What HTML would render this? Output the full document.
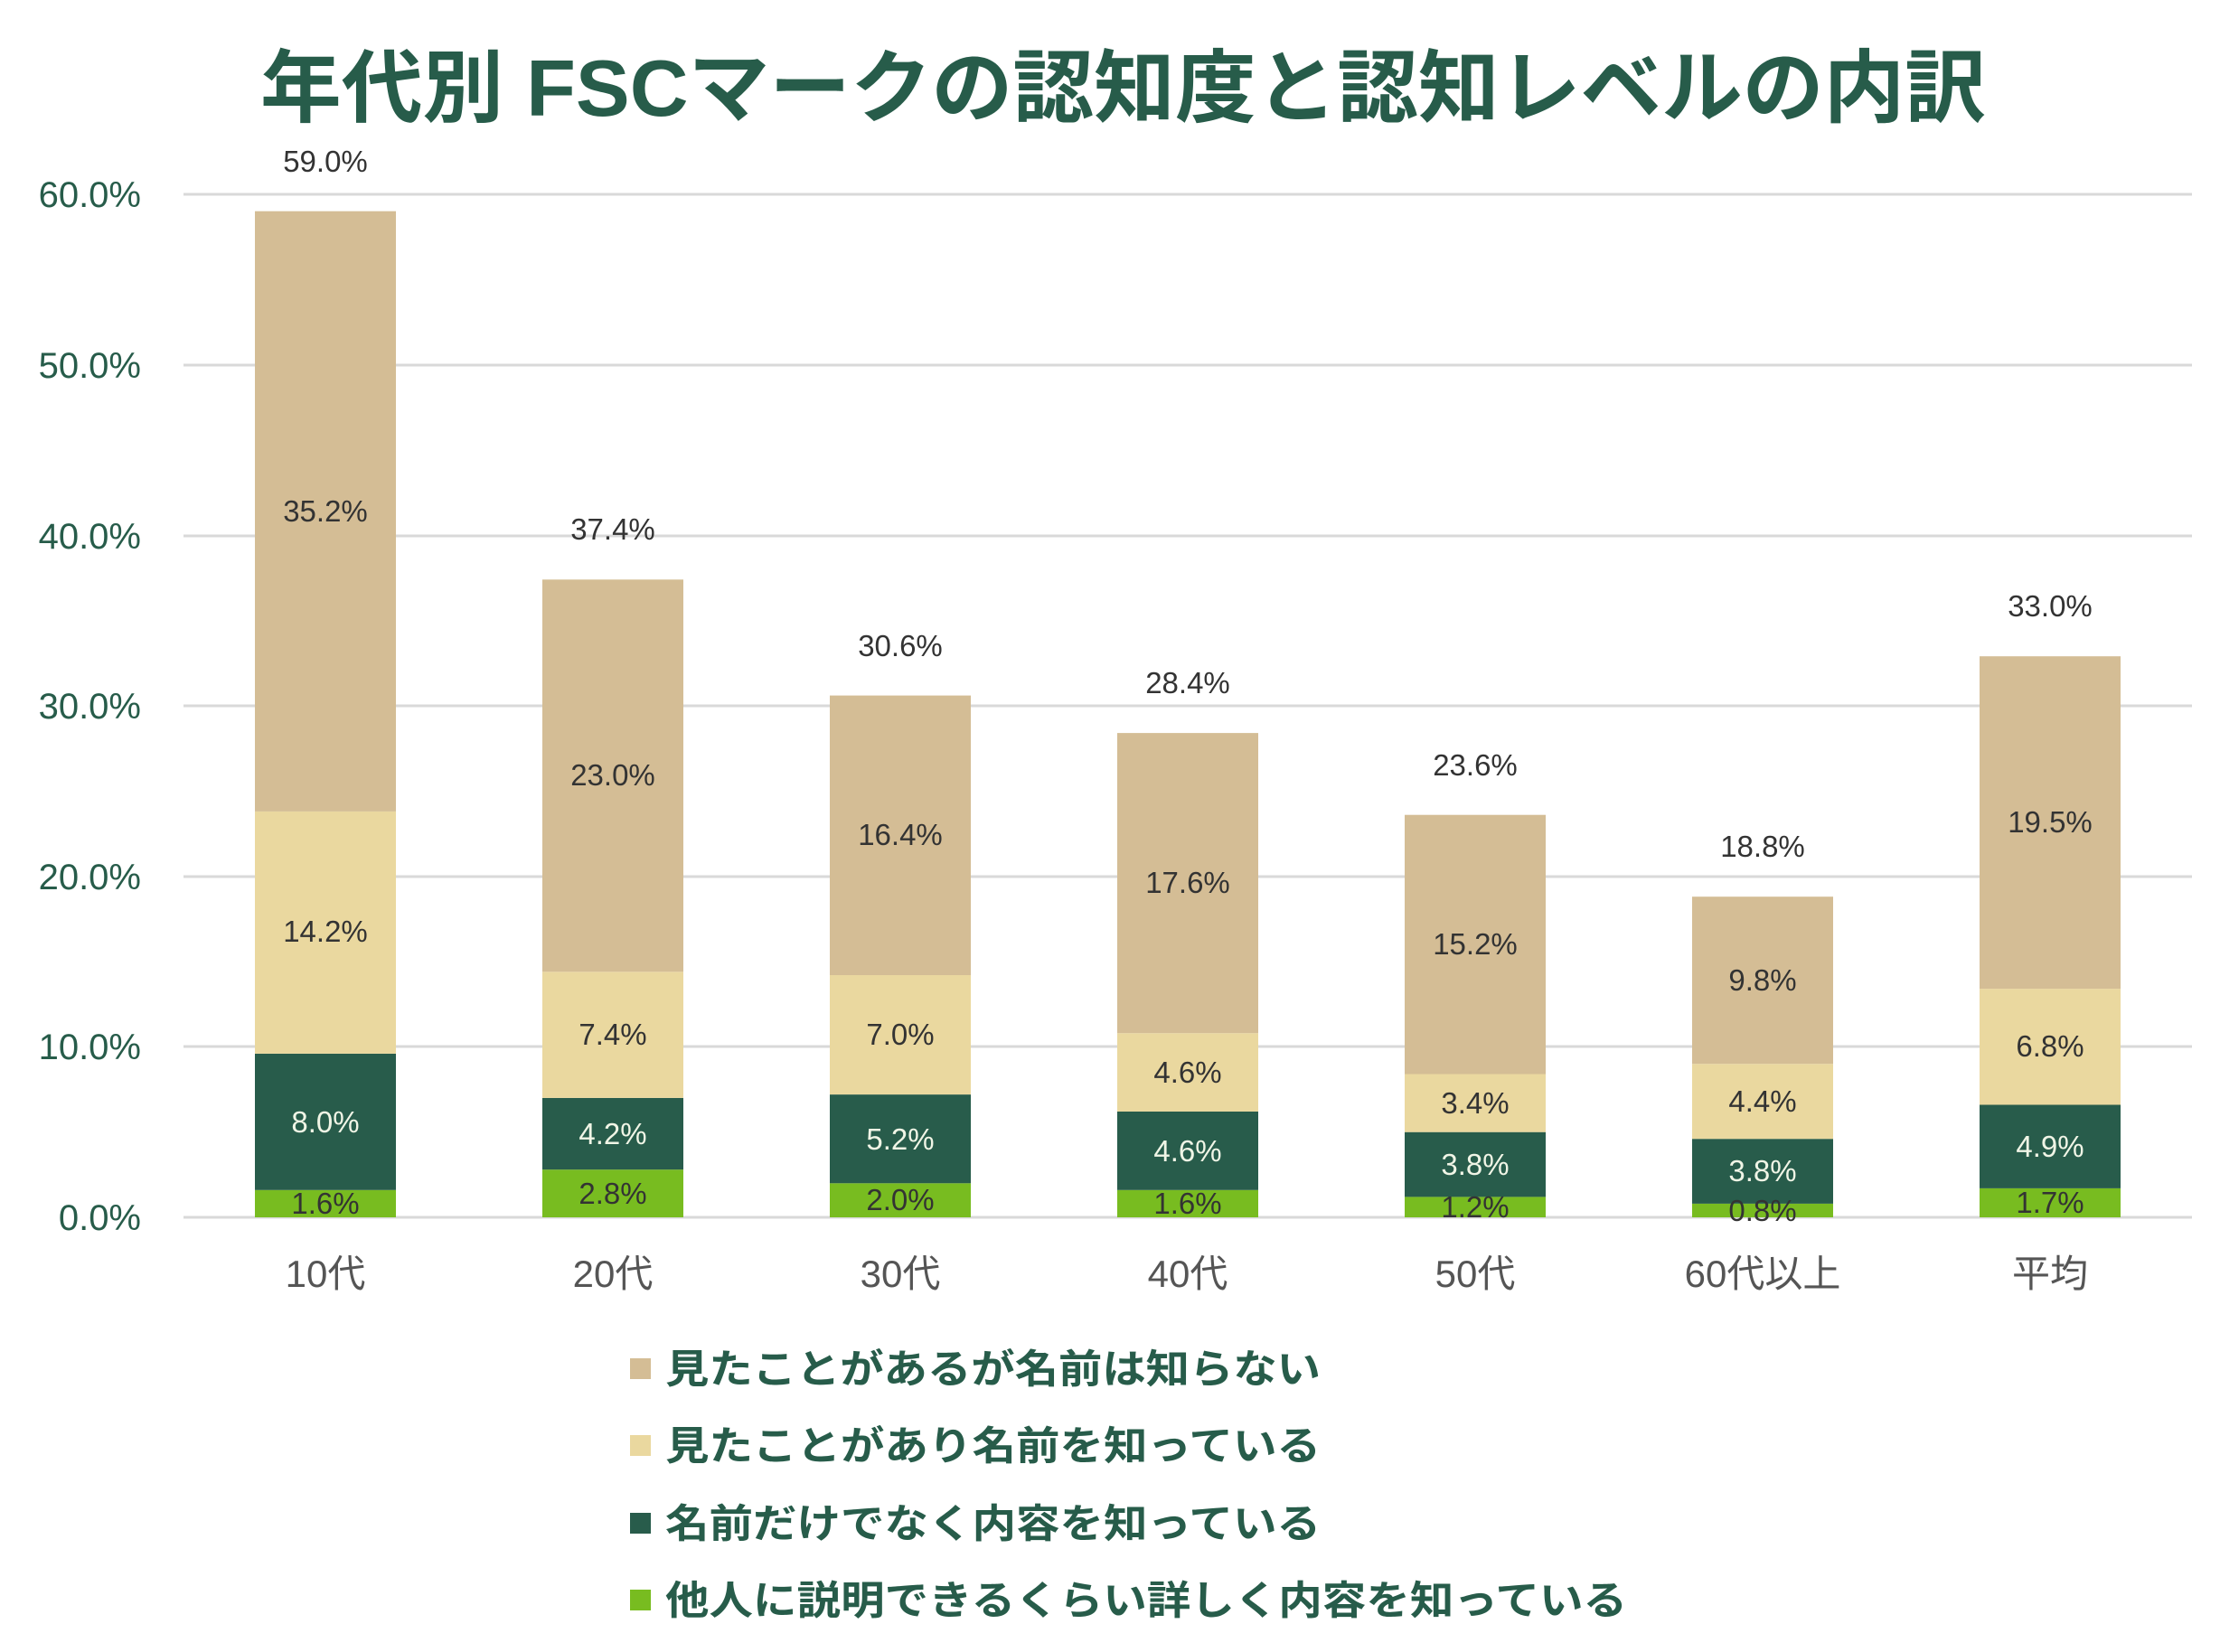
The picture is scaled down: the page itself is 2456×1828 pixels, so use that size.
<!DOCTYPE html>
<html><head><meta charset="utf-8"><style>
html,body{margin:0;padding:0;background:#fff;}
svg{display:block;}
text{font-family:"Liberation Sans","Noto Sans CJK JP",sans-serif;}
</style></head><body>
<svg width="2456" height="1828" viewBox="0 0 2456 1828" xmlns="http://www.w3.org/2000/svg">
<text x="288" y="128" font-size="88" font-weight="bold" fill="#275c4a" textLength="1909" lengthAdjust="spacingAndGlyphs" font-family="Noto Sans CJK JP, sans-serif">年代別 FSCマークの認知度と認知レベルの内訳</text>
<g stroke="#d9d9d9" stroke-width="3">
<line x1="203" x2="2425" y1="215" y2="215"/>
<line x1="203" x2="2425" y1="404" y2="404"/>
<line x1="203" x2="2425" y1="593" y2="593"/>
<line x1="203" x2="2425" y1="781" y2="781"/>
<line x1="203" x2="2425" y1="970" y2="970"/>
<line x1="203" x2="2425" y1="1158" y2="1158"/>
<line x1="203" x2="2425" y1="1347" y2="1347"/>
</g>
<g font-size="40" fill="#275c4a" text-anchor="end">
<text x="156" y="229">60.0%</text>
<text x="156" y="418">50.0%</text>
<text x="156" y="607">40.0%</text>
<text x="156" y="795">30.0%</text>
<text x="156" y="984">20.0%</text>
<text x="156" y="1172">10.0%</text>
<text x="156" y="1361">0.0%</text>
</g>
<g>
<rect x="282" y="1316.8" width="156" height="30.2" fill="#78bc20"/>
<rect x="282" y="1165.9" width="156" height="150.9" fill="#285c4b"/>
<rect x="282" y="897.9" width="156" height="268" fill="#ead89f"/>
<rect x="282" y="233.7" width="156" height="664.2" fill="#d4bd95"/>

<rect x="600" y="1294.2" width="156" height="52.8" fill="#78bc20"/>
<rect x="600" y="1214.9" width="156" height="79.3" fill="#285c4b"/>
<rect x="600" y="1075.3" width="156" height="139.6" fill="#ead89f"/>
<rect x="600" y="641.3" width="156" height="434" fill="#d4bd95"/>

<rect x="918" y="1309.3" width="156" height="37.7" fill="#78bc20"/>
<rect x="918" y="1211.1" width="156" height="98.2" fill="#285c4b"/>
<rect x="918" y="1079.0" width="156" height="132.1" fill="#ead89f"/>
<rect x="918" y="769.6" width="156" height="309.4" fill="#d4bd95"/>

<rect x="1236" y="1316.8" width="156" height="30.2" fill="#78bc20"/>
<rect x="1236" y="1230.0" width="156" height="86.8" fill="#285c4b"/>
<rect x="1236" y="1143.2" width="156" height="86.8" fill="#ead89f"/>
<rect x="1236" y="811.1" width="156" height="332.1" fill="#d4bd95"/>

<rect x="1554" y="1324.4" width="156" height="22.6" fill="#78bc20"/>
<rect x="1554" y="1252.7" width="156" height="71.7" fill="#285c4b"/>
<rect x="1554" y="1188.5" width="156" height="64.2" fill="#ead89f"/>
<rect x="1554" y="901.7" width="156" height="286.8" fill="#d4bd95"/>

<rect x="1872" y="1331.9" width="156" height="15.1" fill="#78bc20"/>
<rect x="1872" y="1260.2" width="156" height="71.7" fill="#285c4b"/>
<rect x="1872" y="1177.2" width="156" height="83" fill="#ead89f"/>
<rect x="1872" y="992.2" width="156" height="185" fill="#d4bd95"/>

<rect x="2190" y="1314.9" width="156" height="32.1" fill="#78bc20"/>
<rect x="2190" y="1222.5" width="156" height="92.4" fill="#285c4b"/>
<rect x="2190" y="1094.1" width="156" height="128.4" fill="#ead89f"/>
<rect x="2190" y="726.2" width="156" height="367.9" fill="#d4bd95"/>
</g>
<g font-size="33" text-anchor="middle" fill="#333">
<text x="360" y="1343">1.6%</text>
<text x="360" y="1042">14.2%</text>
<text x="360" y="577">35.2%</text>
<text x="360" y="190">59.0%</text>

<text x="678" y="1332">2.8%</text>
<text x="678" y="1156">7.4%</text>
<text x="678" y="869">23.0%</text>
<text x="678" y="597">37.4%</text>

<text x="996" y="1339">2.0%</text>
<text x="996" y="1156">7.0%</text>
<text x="996" y="935">16.4%</text>
<text x="996" y="726">30.6%</text>

<text x="1314" y="1343">1.6%</text>
<text x="1314" y="1198">4.6%</text>
<text x="1314" y="988">17.6%</text>
<text x="1314" y="767">28.4%</text>

<text x="1632" y="1347">1.2%</text>
<text x="1632" y="1232">3.4%</text>
<text x="1632" y="1056">15.2%</text>
<text x="1632" y="858">23.6%</text>

<text x="1950" y="1351">0.8%</text>
<text x="1950" y="1230">4.4%</text>
<text x="1950" y="1096">9.8%</text>
<text x="1950" y="948">18.8%</text>

<text x="2268" y="1342">1.7%</text>
<text x="2268" y="1169">6.8%</text>
<text x="2268" y="921">19.5%</text>
<text x="2268" y="682">33.0%</text>
</g>
<g font-size="33" text-anchor="middle" fill="#f0f5e6">
<text x="360" y="1253">8.0%</text>
<text x="678" y="1266">4.2%</text>
<text x="996" y="1272">5.2%</text>
<text x="1314" y="1285">4.6%</text>
<text x="1632" y="1300">3.8%</text>
<text x="1950" y="1307">3.8%</text>
<text x="2268" y="1280">4.9%</text>
</g>
<g font-size="42" fill="#555" text-anchor="middle">
<text x="360" y="1424">10代</text>
<text x="678" y="1424">20代</text>
<text x="996" y="1424">30代</text>
<text x="1314" y="1424">40代</text>
<text x="1632" y="1424">50代</text>
<text x="1950" y="1424">60代以上</text>
<text x="2268" y="1424">平均</text>
</g>
<g font-size="44" font-weight="bold" fill="#275c4a">
<rect x="697" y="1503" width="23" height="23" fill="#d4bd95"/>
<text x="736" y="1530" textLength="725" lengthAdjust="spacingAndGlyphs">見たことがあるが名前は知らない</text>
<rect x="697" y="1588" width="23" height="23" fill="#ead89f"/>
<text x="736" y="1615" textLength="725" lengthAdjust="spacingAndGlyphs">見たことがあり名前を知っている</text>
<rect x="697" y="1674" width="23" height="23" fill="#285c4b"/>
<text x="736" y="1701" textLength="725" lengthAdjust="spacingAndGlyphs">名前だけでなく内容を知っている</text>
<rect x="697" y="1759" width="23" height="23" fill="#78bc20"/>
<text x="736" y="1786" textLength="1064" lengthAdjust="spacingAndGlyphs">他人に説明できるくらい詳しく内容を知っている</text>
</g>
</svg>
</body></html>
